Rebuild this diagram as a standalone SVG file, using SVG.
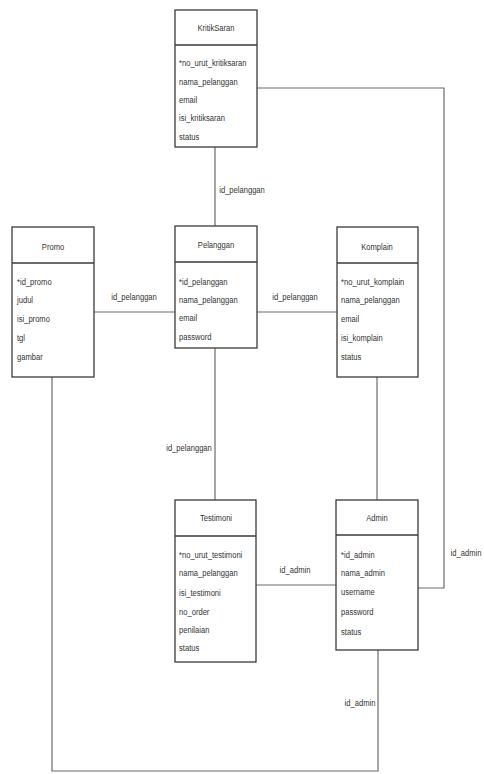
<svg xmlns="http://www.w3.org/2000/svg" width="484" height="774" viewBox="0 0 484 774">
<style>
.box{fill:#fff;stroke:#3a3a3a;stroke-width:1.3}
.div{stroke:#3a3a3a;stroke-width:1.3}
.t{font-family:"Liberation Sans",Arial,sans-serif;font-size:9.5px;fill:#333}
.c{text-anchor:middle}
.conn{fill:none;stroke:#6a6a6a;stroke-width:1.2}
.lbl{font-family:"Liberation Sans",Arial,sans-serif;font-size:9.5px;fill:#333;text-anchor:middle}
</style>
<rect width="484" height="774" fill="#fff"/>
<g id="connectors">
<path class="conn" d="M215,147V226"/>
<path class="conn" d="M257,88H444V588H418"/>
<path class="conn" d="M94,312H175"/>
<path class="conn" d="M257,312H337"/>
<path class="conn" d="M215,348V500"/>
<path class="conn" d="M377,377V500"/>
<path class="conn" d="M256,585H336"/>
<path class="conn" d="M378,650V771H52V377"/>
<text class="lbl" transform="translate(242,193) scale(0.8,1)">id_pelanggan</text>
<text class="lbl" transform="translate(466,556) scale(0.8,1)">id_admin</text>
<text class="lbl" transform="translate(134,300) scale(0.8,1)">id_pelanggan</text>
<text class="lbl" transform="translate(295,300) scale(0.8,1)">id_pelanggan</text>
<text class="lbl" transform="translate(189,451) scale(0.8,1)">id_pelanggan</text>
<text class="lbl" transform="translate(295,573) scale(0.8,1)">id_admin</text>
<text class="lbl" transform="translate(360,706) scale(0.8,1)">id_admin</text>
</g>
<g id="kritiksaran">
<rect class="box" x="175" y="10" width="82" height="137"/>
<line class="div" x1="175" y1="45" x2="257" y2="45"/>
<text class="t c" transform="translate(216,31) scale(0.8,1)">KritikSaran</text>
<text class="t" transform="translate(179,66) scale(0.8,1)">*no_urut_kritiksaran</text>
<text class="t" transform="translate(179,85) scale(0.8,1)">nama_pelanggan</text>
<text class="t" transform="translate(179,103) scale(0.8,1)">email</text>
<text class="t" transform="translate(179,121) scale(0.8,1)">isi_kritiksaran</text>
<text class="t" transform="translate(179,140) scale(0.8,1)">status</text>
</g>
<g id="promo">
<rect class="box" x="12" y="227" width="82" height="150"/>
<line class="div" x1="12" y1="263" x2="94" y2="263"/>
<text class="t c" transform="translate(53,250) scale(0.8,1)">Promo</text>
<text class="t" transform="translate(17,285) scale(0.8,1)">*id_promo</text>
<text class="t" transform="translate(17,303) scale(0.8,1)">judul</text>
<text class="t" transform="translate(17,322) scale(0.8,1)">isi_promo</text>
<text class="t" transform="translate(17,341) scale(0.8,1)">tgl</text>
<text class="t" transform="translate(17,360) scale(0.8,1)">gambar</text>
</g>
<g id="pelanggan">
<rect class="box" x="175" y="226" width="82" height="122"/>
<line class="div" x1="175" y1="262" x2="257" y2="262"/>
<text class="t c" transform="translate(216,248) scale(0.8,1)">Pelanggan</text>
<text class="t" transform="translate(179,285) scale(0.8,1)">*id_pelanggan</text>
<text class="t" transform="translate(179,303) scale(0.8,1)">nama_pelanggan</text>
<text class="t" transform="translate(179,321) scale(0.8,1)">email</text>
<text class="t" transform="translate(179,340) scale(0.8,1)">password</text>
</g>
<g id="komplain">
<rect class="box" x="337" y="227" width="81" height="150"/>
<line class="div" x1="337" y1="263" x2="418" y2="263"/>
<text class="t c" transform="translate(377,250) scale(0.8,1)">Komplain</text>
<text class="t" transform="translate(341,285) scale(0.8,1)">*no_urut_komplain</text>
<text class="t" transform="translate(341,303) scale(0.8,1)">nama_pelanggan</text>
<text class="t" transform="translate(341,322) scale(0.8,1)">email</text>
<text class="t" transform="translate(341,341) scale(0.8,1)">isi_komplain</text>
<text class="t" transform="translate(341,360) scale(0.8,1)">status</text>
</g>
<g id="testimoni">
<rect class="box" x="175" y="500" width="81" height="162"/>
<line class="div" x1="175" y1="536" x2="256" y2="536"/>
<text class="t c" transform="translate(216,521) scale(0.8,1)">Testimoni</text>
<text class="t" transform="translate(179,558) scale(0.8,1)">*no_urut_testimoni</text>
<text class="t" transform="translate(179,576) scale(0.8,1)">nama_pelanggan</text>
<text class="t" transform="translate(179,596) scale(0.8,1)">isi_testimoni</text>
<text class="t" transform="translate(179,615) scale(0.8,1)">no_order</text>
<text class="t" transform="translate(179,633) scale(0.8,1)">penilaian</text>
<text class="t" transform="translate(179,651) scale(0.8,1)">status</text>
</g>
<g id="admin">
<rect class="box" x="336" y="500" width="82" height="150"/>
<line class="div" x1="336" y1="535" x2="418" y2="535"/>
<text class="t c" transform="translate(377,521) scale(0.8,1)">Admin</text>
<text class="t" transform="translate(341,558) scale(0.8,1)">*id_admin</text>
<text class="t" transform="translate(341,576) scale(0.8,1)">nama_admin</text>
<text class="t" transform="translate(341,595) scale(0.8,1)">username</text>
<text class="t" transform="translate(341,615) scale(0.8,1)">password</text>
<text class="t" transform="translate(341,635) scale(0.8,1)">status</text>
</g>
</svg>
